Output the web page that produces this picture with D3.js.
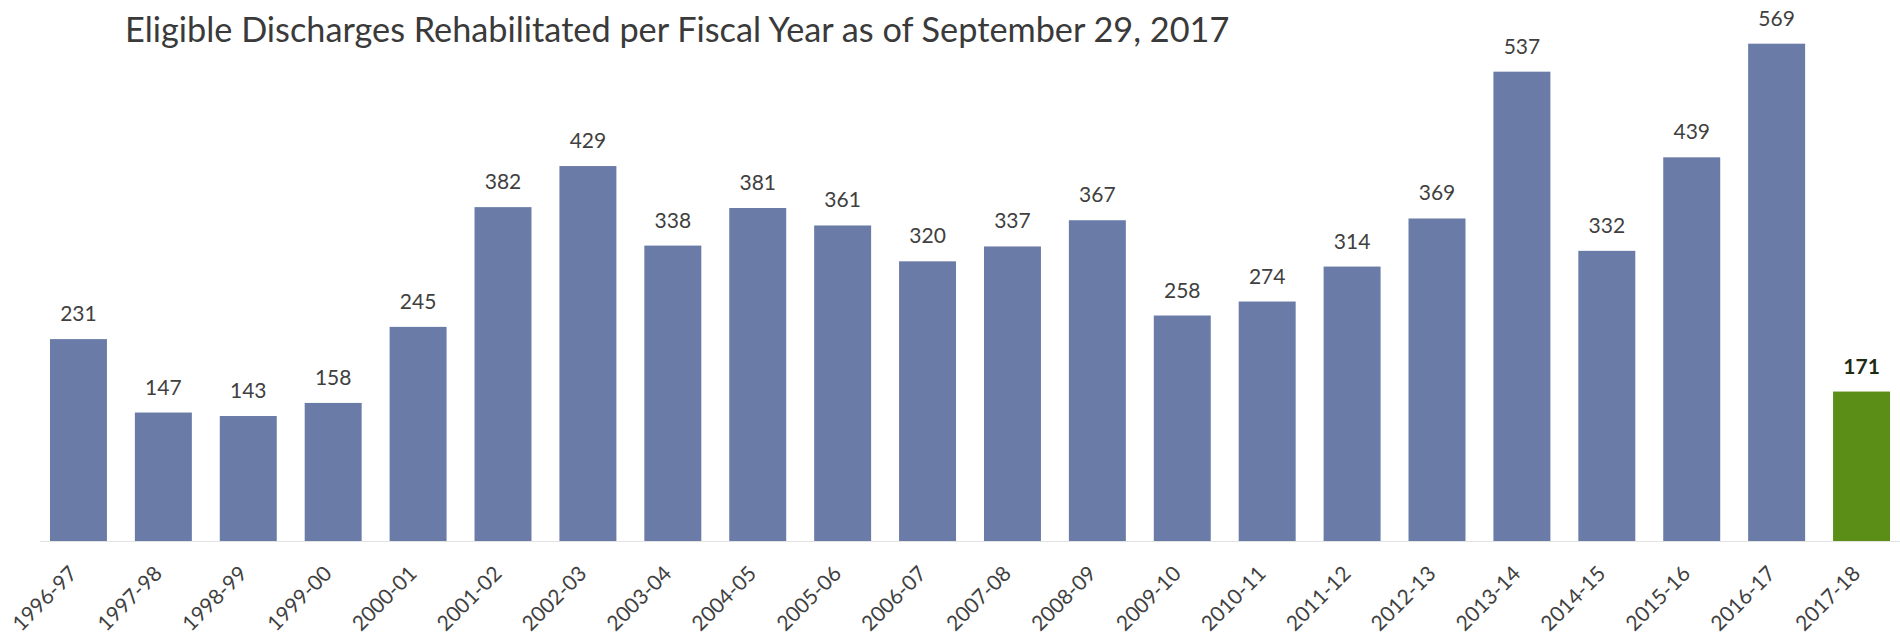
<!DOCTYPE html>
<html>
<head>
<meta charset="utf-8">
<script src="https://cdn.jsdelivr.net/npm/d3@7"></script>
<style>
	body { margin:0; background:#ffffff; }
	svg { display:block; font-family: Lato, "Open Sans", sans-serif; }
</style>
</head>
<body>
<svg id="chart" width="1900" height="634"></svg>
<script>
//chart data
var years = ["1996-97","1997-98","1998-99","1999-00","2000-01","2001-02","2002-03","2003-04",
	"2004-05","2005-06","2006-07","2007-08","2008-09","2009-10","2010-11","2011-12",
	"2012-13","2013-14","2014-15","2015-16","2016-17","2017-18"];
var discharges = [231,147,143,158,245,382,429,338,381,361,320,337,367,258,274,314,369,537,332,439,569,171];
var currentYear = "2017-18";
var title = "Eligible Discharges Rehabilitated per Fiscal Year as of September 29, 2017";

var svg = d3.select("#chart");
var baseY = 541;

var x = d3.scaleBand()
	.domain(years)
	.range([36, 1904])
	.paddingInner(0.329)
	.paddingOuter(0.1645);

var y = d3.scaleLinear()
	.domain([0, 600])
	.range([baseY, baseY - 0.874 * 600]);

//title, sized to span the same width as the original
var t = svg.append("text")
	.attr("x", 125)
	.attr("y", 42)
	.attr("fill", "#3a3a3a")
	.style("font-size", "30px")
	.text(title);
var w = t.node().getComputedTextLength();
t.style("font-size", (30 * 1105 / w) + "px");

//baseline
svg.append("line")
	.attr("x1", 40).attr("x2", 1900)
	.attr("y1", baseY + 0.5).attr("y2", baseY + 0.5)
	.attr("stroke", "#e2e2e2").attr("stroke-width", 1);

//bars
svg.selectAll("rect.bar")
	.data(years)
	.enter().append("rect")
	.attr("class", "bar")
	.attr("x", function(d) { return x(d); })
	.attr("width", x.bandwidth())
	.attr("y", function(d,i) { return y(discharges[i]); })
	.attr("height", function(d,i) { return baseY - y(discharges[i]); })
	.attr("fill", function(d) { return d == currentYear ? "#5b8e16" : "#6a7ba7"; });

//values above bars
svg.selectAll("text.value")
	.data(years)
	.enter().append("text")
	.attr("class", "value")
	.attr("x", function(d) { return x(d) + x.bandwidth() / 2; })
	.attr("y", function(d,i) { return y(discharges[i]) - 18; })
	.attr("text-anchor", "middle")
	.attr("fill", function(d) { return d == currentYear ? "#1f2c14" : "#404040"; })
	.style("font-size", "21px")
	.style("font-weight", function(d) { return d == currentYear ? "bold" : "normal"; })
	.text(function(d,i) { return discharges[i]; });

//rotated category labels
svg.selectAll("text.cat")
	.data(years)
	.enter().append("text")
	.attr("class", "cat")
	.attr("text-anchor", "end")
	.attr("fill", "#404040")
	.style("font-size", "21px")
	.attr("transform", function(d) {
		return "translate(" + (x(d) + x.bandwidth() / 2) + "," + (baseY + 34) + ") rotate(-45)";
	})
	.text(function(d) { return d; });
</script>
</body>
</html>
